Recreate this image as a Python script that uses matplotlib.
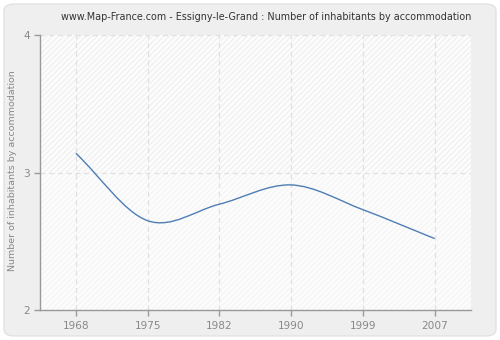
import matplotlib
matplotlib.use("Agg")
import matplotlib.pyplot as plt
from matplotlib.path import Path
from matplotlib.patches import PathPatch, FancyBboxPatch
import numpy as np

years = ["1968", "1975", "1982", "1990", "1999", "2007"]
inhabitants = [3.14, 2.65, 2.77, 2.91, 2.73, 2.52]
y_ticks = [2, 3, 4]

title = "www.Map-France.com - Essigny-le-Grand : Number of inhabitants by accommodation"
y_label = "Number of inhabitants by accommodation"

plt.rcParams["hatch.linewidth"] = 0.6

fig = plt.figure(figsize=(5.0, 3.4), dpi=100)
fig.patch.set_facecolor("white")

# rounded grey frame behind everything
frame = FancyBboxPatch((0.008, 0.012), 0.984, 0.976,
                       boxstyle="round,pad=0,rounding_size=0.02",
                       transform=fig.transFigure, facecolor="#efefef",
                       edgecolor="#e2e2e2", linewidth=1.0, zorder=-10)
fig.patches.append(frame)

ax = fig.add_axes([0.08, 0.088, 0.861, 0.809])
ax.set_facecolor("#fcfcfc")

x = np.arange(len(years))
ax.set_xlim(-0.5, len(years) - 0.5)
ax.set_ylim(2, 4)

# diagonal hatching, a bit stronger in the upper band
ax.axhspan(3, 4, facecolor="none", edgecolor="#ebebeb", hatch="//////", linewidth=0, zorder=0)
ax.axhspan(2, 3, facecolor="none", edgecolor="#f2f2f2", hatch="//////", linewidth=0, zorder=0)

for xi in x:
    ax.axvline(xi, color="#e0e0e0", linestyle=(0, (4, 3)), linewidth=0.9, zorder=1)
for yt in y_ticks[1:]:
    ax.axhline(yt, color="#e0e0e0", linestyle=(0, (4, 3)), linewidth=0.9, zorder=1)

# smooth line through the points using cubic Bezier segments (Catmull-Rom tangents)
pts = np.column_stack([x, inhabitants]).astype(float)
n = len(pts)
tang = np.zeros_like(pts)
for i in range(n):
    a = pts[max(i - 1, 0)]
    b = pts[min(i + 1, n - 1)]
    tang[i] = (b - a) / (2.0 if 0 < i < n - 1 else 1.0)
verts = [tuple(pts[0])]
codes = [Path.MOVETO]
for i in range(n - 1):
    c1 = pts[i] + tang[i] / 3.0
    c2 = pts[i + 1] - tang[i + 1] / 3.0
    verts += [tuple(c1), tuple(c2), tuple(pts[i + 1])]
    codes += [Path.CURVE4] * 3
ax.add_patch(PathPatch(Path(verts, codes), facecolor="none",
                       edgecolor="#4f7db4", linewidth=1.0, zorder=3))

ax.set_xticks(x)
ax.set_xticklabels(years)
ax.set_yticks(y_ticks)

for side in ["top", "right"]:
    ax.spines[side].set_visible(False)
for side in ["left", "bottom"]:
    ax.spines[side].set_color("#999999")
    ax.spines[side].set_linewidth(1.0)

ax.tick_params(axis="both", colors="#999999", labelcolor="#888888",
               labelsize=7.6, length=4, width=1.0)
ax.tick_params(axis="y", pad=3)
ax.tick_params(axis="x", pad=4)

fig.text(0.026, 0.497, y_label, rotation=90, ha="center", va="center",
         color="#888888", fontsize=6.8)
fig.text(0.533, 0.95, title, ha="center", va="center", fontsize=6.9, color="#333333")

fig.savefig("out.png", dpi=100, facecolor=fig.get_facecolor())
